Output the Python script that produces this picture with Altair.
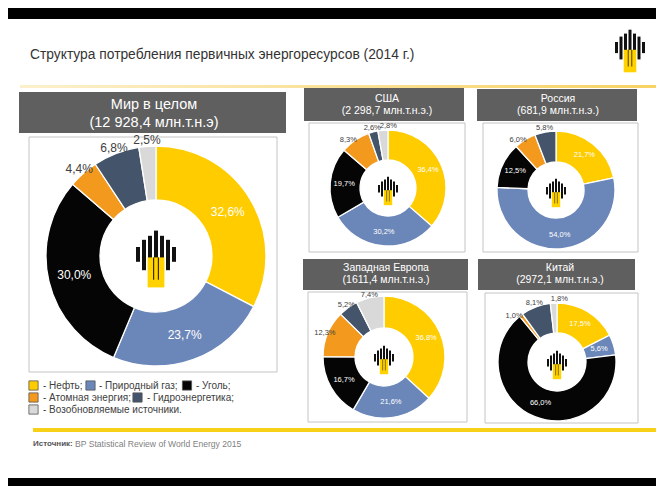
import altair as alt
import pandas as pd

# ---------------- data ----------------
SOURCES = ["Нефть", "Природный газ", "Уголь", "Атомная энергия",
           "Гидроэнергетика", "Возобновляемые источники"]
COLORS = ["#FFCC00", "#6B87B9", "#050505", "#F39A1E", "#44546A", "#D9D9D9"]
LEGEND_TEXT = ["- Нефть;", "- Природный газ;", "- Уголь;", "- Атомная энергия;",
               "- Гидроэнергетика;", "- Возобновляемые источники."]

REGIONS = ["Мир в целом", "США", "Россия", "Западная Европа", "Китай"]
TOTALS = ["(12 928,4 млн.т.н.э)", "(2 298,7 млн.т.н.э.)", "(681,9 млн.т.н.э.)",
          "(1611,4 млн.т.н.э.)", "(2972,1 млн.т.н.э.)"]

WORLD = [32.6, 23.7, 30.0, 4.4, 6.8, 2.5]
USA = [36.4, 30.2, 19.7, 8.3, 2.6, 2.8]
RUSSIA = [21.7, 54.0, 12.5, 6.0, 5.8, 0.0]
EUROPE = [36.8, 21.6, 16.7, 12.3, 5.2, 7.4]
CHINA = [17.5, 5.6, 66.0, 1.0, 8.1, 1.8]
SHARES = [WORLD, USA, RUSSIA, EUROPE, CHINA]

TITLE = "Структура потребления первичных энергоресурсов (2014 г.)"
SOURCE_LABEL = "Источник:"
SOURCE_TEXT = "BP Statistical Review of World Energy 2015"

# ---------------- layout (page pixels) ----------------
OFF = 8
W, H = 648, 478
FONT_R = "Liberation Sans, Arial"

LAYOUT = [
    dict(head=(19, 92, 286, 133), box=(29, 137, 277, 372), c=(156, 256), ro=110, ri=56,
         rin=84, rout=116, spread=0, fs=12, hfs=14.5, hx=154, hy=(105, 123), logo=40),
    dict(head=(304, 88, 464, 121), box=(309, 123, 465, 252), c=(388, 188), ro=58, ri=28,
         rin=44, rout=62, spread=1.5, fs=7.5, hfs=10.5, hx=387, hy=(99, 111), logo=20),
    dict(head=(477, 89, 637, 121), box=(483, 123, 638, 252), c=(556, 190), ro=59, ri=28,
         rin=45, rout=63, spread=1.5, fs=7.5, hfs=10.5, hx=558, hy=(99, 111), logo=20),
    dict(head=(303, 259, 468, 290), box=(308, 292, 467, 422), c=(384, 357), ro=61, ri=29,
         rin=46, rout=64, spread=0, fs=7.5, hfs=10.5, hx=386, hy=(268, 280), logo=20),
    dict(head=(478, 259, 635, 290), box=(485, 293, 638, 423), c=(557, 362), ro=59, ri=29,
         rin=44, rout=63, spread=1.5, fs=7.5, hfs=10.5, hx=560, hy=(268, 280), logo=20),
]

# logo shape, in units of logo width: (x0, x1, y0, y1)
LOGO_BLACK = [(-0.50, -0.40, -0.30, 0.07), (-0.35, -0.25, -0.48, 0.28),
              (-0.20, -0.10, -0.58, 0.0), (-0.05, 0.05, -0.71, 0.0),
              (0.10, 0.20, -0.58, 0.0), (0.25, 0.35, -0.48, 0.28),
              (0.40, 0.50, -0.30, 0.07)]
LOGO_YELLOW = [(-0.21, 0.21, -0.04, 0.71)]
LOGO_STRIPES = [(-0.075, -0.045, -0.04, 0.52), (0.045, 0.075, -0.04, 0.52)]

THETA_SCALE = alt.Scale(domain=[0, 100])
COLOR_SCALE = alt.Scale(domain=SOURCES, range=COLORS)


def rects(rows, **mark):
    df = pd.DataFrame(rows, columns=["x0", "y0", "x1", "y1"]).astype(float)
    df[["x0", "x1"]] -= OFF
    df[["y0", "y1"]] -= OFF
    return alt.Chart(df).mark_rect(**mark).encode(
        x=alt.X("x0:Q", scale=None, axis=None), x2="x1:Q",
        y=alt.Y("y0:Q", scale=None, axis=None), y2="y1:Q")


def texts(rows, **mark):
    df = pd.DataFrame(rows, columns=["x", "y", "t"])
    df["x"] = df["x"] - OFF
    df["y"] = df["y"] - OFF
    return alt.Chart(df).mark_text(**mark).encode(
        x=alt.X("x:Q", scale=None, axis=None),
        y=alt.Y("y:Q", scale=None, axis=None),
        text="t:N")


def logo(cx, cy, w):
    out = []
    for shape, col in ((LOGO_BLACK, "#111111"), (LOGO_YELLOW, "#FFD200"), (LOGO_STRIPES, "#3a3000")):
        rows = [(cx + a * w, cy + c * w, cx + b * w, cy + d * w) for a, b, c, d in shape]
        out.append(rects(rows, color=col))
    return out


def donut(i):
    L = LAYOUT[i]
    df = pd.DataFrame({"src": SOURCES, "v": SHARES[i], "idx": list(range(len(SOURCES)))})
    df = df[df.v > 0]
    cx, cy = L["c"][0] - OFF, L["c"][1] - OFF
    base = alt.Chart(df)
    arcs = base.mark_arc(outerRadius=L["ro"], innerRadius=L["ri"], stroke="white",
                         strokeWidth=1.3).encode(
        theta=alt.Theta("v:Q", stack=True, scale=THETA_SCALE),
        color=alt.Color("src:N", scale=COLOR_SCALE, legend=None),
        order=alt.Order("idx:Q"),
        x=alt.value(cx), y=alt.value(cy))
    lab = base.transform_window(
        cum="sum(v)", sort=[alt.SortField("idx")], frame=[None, 0]
    ).transform_calculate(
        mid="datum.cum - datum.v / 2",
        omid=f"datum.cum - datum.v / 2 + (datum.idx - 4) * {L['spread']}",
        lbl="replace(format(datum.v, '.1f'), '.', ',') + '%'")
    inner = lab.transform_filter(
        alt.FieldOneOfPredicate(field="src", oneOf=SOURCES[:3])
    ).mark_text(radius=L["rin"], fontSize=L["fs"], color="white", font=FONT_R).encode(
        theta=alt.Theta("mid:Q", stack=False, scale=THETA_SCALE),
        text="lbl:N", x=alt.value(cx), y=alt.value(cy))
    outer = lab.transform_filter(
        alt.FieldOneOfPredicate(field="src", oneOf=SOURCES[3:])
    ).mark_text(radius=L["rout"], fontSize=L["fs"], color="#404040", font=FONT_R).encode(
        theta=alt.Theta("omid:Q", stack=False, scale=THETA_SCALE),
        text="lbl:N", x=alt.value(cx), y=alt.value(cy))
    return [arcs, inner, outer] + logo(L["c"][0], L["c"][1] + 3, L["logo"])


layers = []
# black bars of the screenshot
layers.append(rects([(0, 8, 664, 19), (0, 478, 664, 490)], color="black"))
# top thin gradient line
layers.append(rects([(20, 85, 657, 88)], color=alt.LinearGradient(
    gradient="linear", x1=0, x2=1, y1=0, y2=0,
    stops=[alt.GradientStop(color="#FCF0CC", offset=0),
           alt.GradientStop(color="#F7D264", offset=1)])))
# title
layers.append(texts([(30, 55, TITLE)], font=FONT_R, fontSize=13.8, color="#333333",
                    align="left", baseline="middle"))
layers += logo(630, 51, 30)

# panels
layers.append(rects([L["head"] for L in LAYOUT], color="#5F5F5F"))
layers.append(rects([L["box"] for L in LAYOUT], fill="white", stroke="#C4C4C4",
                    strokeWidth=1))
for i in range(len(LAYOUT)):
    layers += donut(i)
# header texts
for i, L in enumerate(LAYOUT):
    layers.append(texts([(L["hx"], L["hy"][0], REGIONS[i]), (L["hx"], L["hy"][1], TOTALS[i])],
                        font=FONT_R, fontSize=L["hfs"], color="white", align="center",
                        baseline="middle"))

# legend
LEG_POS = [(33.5, 385.5, 43), (90.5, 385.5, 99), (187, 385.5, 196),
           (33.5, 397.5, 43), (137.5, 397.5, 147), (33.5, 409.5, 43)]
leg = pd.DataFrame({"src": SOURCES, "t": LEGEND_TEXT,
                    "sx": [p[0] - OFF for p in LEG_POS],
                    "y": [p[1] - OFF for p in LEG_POS],
                    "tx": [p[2] - OFF for p in LEG_POS]})
layers.append(alt.Chart(leg).mark_square(size=85, opacity=1, stroke="#555555",
                                         strokeWidth=0.8).encode(
    x=alt.X("sx:Q", scale=None, axis=None), y=alt.Y("y:Q", scale=None, axis=None),
    color=alt.Color("src:N", scale=COLOR_SCALE, legend=None)))
layers.append(alt.Chart(leg).mark_text(font=FONT_R, fontSize=10, color="#404040",
                                       align="left", baseline="middle").encode(
    x=alt.X("tx:Q", scale=None, axis=None), y=alt.Y("y:Q", scale=None, axis=None),
    text="t:N"))

# bottom yellow line and source
layers.append(rects([(33, 428, 660, 432)], color="#F7D117"))
layers.append(texts([(33, 444, SOURCE_LABEL)], font=FONT_R, fontSize=8, fontWeight="bold",
                    color="#555555", align="left", baseline="middle"))
layers.append(texts([(75, 444, SOURCE_TEXT)], font=FONT_R, fontSize=8.6, color="#7F7F7F",
                    align="left", baseline="middle"))

chart = alt.layer(*layers).properties(
    width=W, height=H, background="white", padding=0,
    autosize=alt.AutoSizeParams(type="none")
).configure_view(stroke=None)

chart.save("out.html", embed_options={"renderer": "svg", "actions": False})
